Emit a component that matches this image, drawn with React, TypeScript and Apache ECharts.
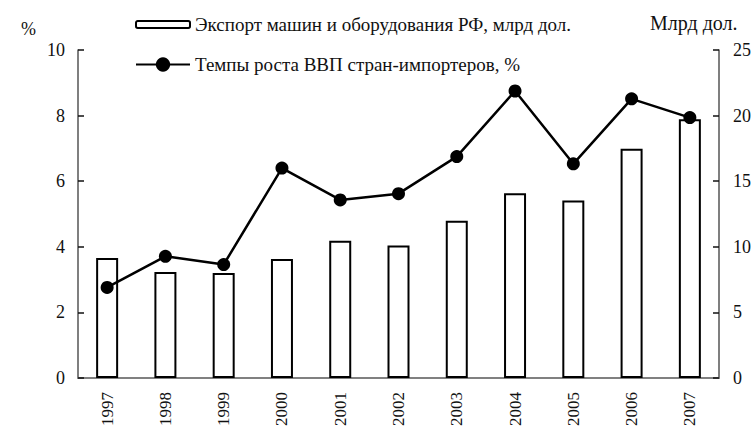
import React, { useEffect, useRef } from "react";
import * as echarts from "echarts";

const years = ["1997", "1998", "1999", "2000", "2001", "2002", "2003", "2004", "2005", "2006", "2007"];
const exportBln = [9.15, 8.08, 8.0, 9.07, 10.46, 10.1, 11.99, 14.09, 13.53, 17.47, 19.73];
const gdpGrowth = [2.76, 3.71, 3.46, 6.4, 5.43, 5.62, 6.75, 8.75, 6.53, 8.51, 7.94];
const leftTicks = { min: 0, max: 10, interval: 2 };
const rightTicks = { min: 0, max: 25, interval: 5 };
const barName = "Экспорт машин и оборудования РФ, млрд дол.";
const lineName = "Темпы роста ВВП стран-импортеров, %";

const FONT = "'Times New Roman', 'Liberation Serif', serif";

export default function App() {
  const ref = useRef<HTMLDivElement>(null);
  useEffect(() => {
    if (!ref.current) return;
    const chart = echarts.init(ref.current, null, { renderer: "svg" });
    const axisText = { fontFamily: FONT, fontSize: 18, color: "#111" };
    chart.setOption({
      animation: false,
      backgroundColor: "#fff",
      grid: { left: 78, right: 35, top: 50, bottom: 50.5, containLabel: false },
      legend: [
        {
          data: [barName],
          left: 130,
          top: 10,
          itemWidth: 54,
          itemHeight: 7,
          textStyle: { fontFamily: FONT, fontSize: 19, color: "#111" },
          selectedMode: false,
        },
        {
          data: [lineName],
          left: 130,
          top: 50,
          itemWidth: 54,
          itemHeight: 18,
          textStyle: { fontFamily: FONT, fontSize: 19, color: "#111" },
          selectedMode: false,
        },
      ],
      graphic: [
        { type: "text", left: 21, top: 20, style: { text: "%", fontFamily: FONT, fontSize: 18, fill: "#111" } },
        { type: "text", left: 650, top: 13, style: { text: "Млрд дол.", fontFamily: FONT, fontSize: 20, fill: "#111" } },
      ],
      xAxis: {
        type: "category",
        data: years,
        axisLine: { lineStyle: { color: "#808080", width: 2 } },
        axisTick: { show: false },
        axisLabel: { rotate: 90, margin: 14, fontFamily: FONT, fontSize: 17, color: "#111" },
      },
      yAxis: [
        {
          type: "value",
          ...leftTicks,
          position: "left",
          axisLine: { show: true, lineStyle: { color: "#555", width: 1.5 } },
          axisTick: { show: true, inside: true, length: 6, lineStyle: { color: "#111", width: 1.5 } },
          axisLabel: { ...axisText, margin: 13 },
          splitLine: { show: false },
        },
        {
          type: "value",
          ...rightTicks,
          position: "right",
          axisLine: { show: true, lineStyle: { color: "#555", width: 1.5 } },
          axisTick: { show: true, inside: true, length: 6, lineStyle: { color: "#111", width: 1.5 } },
          axisLabel: { ...axisText, margin: 14 },
          splitLine: { show: false },
        },
      ],
      series: [
        {
          name: barName,
          type: "bar",
          yAxisIndex: 1,
          data: exportBln,
          barWidth: 22,
          itemStyle: { color: "#fff", borderColor: "#000", borderWidth: 2 },
        },
        {
          name: lineName,
          type: "line",
          yAxisIndex: 0,
          data: gdpGrowth,
          symbol: "circle",
          symbolSize: 13,
          lineStyle: { color: "#000", width: 2.5 },
          itemStyle: { color: "#000" },
        },
      ],
    });
    return () => chart.dispose();
  }, []);
  return <div ref={ref} style={{ width: 754, height: 429, position: "absolute", left: 0, top: 0 }} />;
}
